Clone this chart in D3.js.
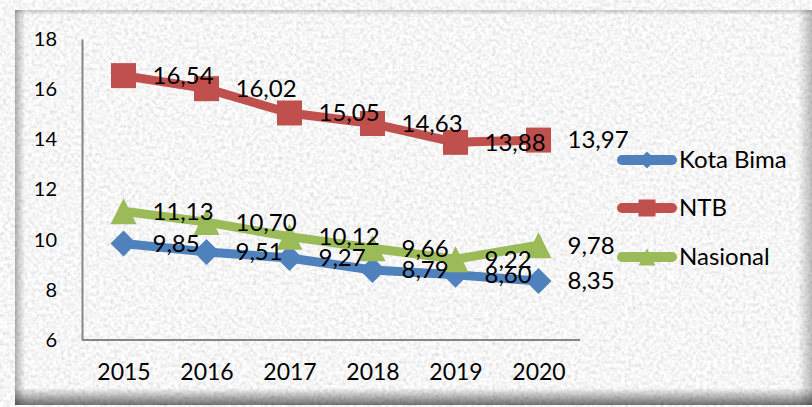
<!DOCTYPE html>
<html><head><meta charset="utf-8">
<script src="https://cdn.jsdelivr.net/npm/d3@7"></script>
<style>html,body{margin:0;padding:0;background:#fff;}svg{display:block;}</style>
</head><body>
<svg id="chart" width="812" height="407"></svg>
<script>
const years = ["2015","2016","2017","2018","2019","2020"];
const kotaBima = [9.85, 9.51, 9.27, 8.79, 8.60, 8.35];
const ntb = [16.54, 16.02, 15.05, 14.63, 13.88, 13.97];
const nasional = [11.13, 10.70, 10.12, 9.66, 9.22, 9.78];
const yTicks = [6, 8, 10, 12, 14, 16, 18];
const seriesNames = ["Kota Bima", "NTB", "Nasional"];
const seriesColors = ["#4F81BD", "#C0504D", "#9BBB59"];
const seriesMarkers = ["diamond", "square", "triangle"];
const seriesValues = [kotaBima, ntb, nasional];

const W = 812, H = 407;
const svg = d3.select("#chart");
const defs = svg.append("defs");
const FONT = "Lato, 'Open Sans', sans-serif";

// texture filter
const f = defs.append("filter").attr("id","grain")
  .attr("filterUnits","userSpaceOnUse").attr("x",0).attr("y",0).attr("width",W).attr("height",H);
f.append("feTurbulence").attr("type","fractalNoise").attr("baseFrequency","0.28").attr("numOctaves",3).attr("seed",7).attr("result","n");
f.append("feColorMatrix").attr("in","n").attr("type","matrix")
  .attr("values","0.45 0.15 0 0 0.62  0.45 0.15 0 0 0.62  0.45 0.15 0 0 0.62  0 0 0 0 1");

// gradients for inner shadow
function grad(id, x1,y1,x2,y2, op){
  const g = defs.append("linearGradient").attr("id",id).attr("x1",x1).attr("y1",y1).attr("x2",x2).attr("y2",y2);
  g.append("stop").attr("offset","0%").attr("stop-color","#000").attr("stop-opacity",0);
  g.append("stop").attr("offset","100%").attr("stop-color","#000").attr("stop-opacity",op);
}
grad("shB",0,0,0,1,0.55);
grad("shR",0,0,1,0,0.25);
grad("shL",1,0,0,0,0.3);
grad("shT",0,1,0,0,0.2);

// border
svg.append("rect").attr("x",0).attr("y",0).attr("width",W).attr("height",H).attr("fill","#F5AFB0");
svg.append("rect").attr("x",13).attr("y",8).attr("width",W-13).attr("height",H-8).attr("fill","#4BACC6");
const ix = 15, iy = 10, iw = W-15, ih = 405-10;
svg.append("rect").attr("x",ix).attr("y",iy).attr("width",iw).attr("height",ih).attr("fill","#ebebeb");
svg.append("rect").attr("x",ix).attr("y",iy).attr("width",iw).attr("height",ih).attr("fill","#fff").attr("filter","url(#grain)");
svg.append("rect").attr("x",ix).attr("y",388).attr("width",iw).attr("height",17).attr("fill","url(#shB)");
svg.append("rect").attr("x",798).attr("y",iy).attr("width",14).attr("height",ih).attr("fill","url(#shR)");
svg.append("rect").attr("x",ix).attr("y",iy).attr("width",10).attr("height",ih).attr("fill","url(#shL)");
svg.append("rect").attr("x",ix).attr("y",iy).attr("width",iw).attr("height",5).attr("fill","url(#shT)");

// scales
const x = d3.scalePoint().domain(years).range([82,580]).padding(0.5);
const y = d3.scaleLinear().domain([6,18]).range([340,39]);

// axes
const yAxis = svg.append("g").attr("transform","translate(82,0)")
  .call(d3.axisLeft(y).tickValues(yTicks).tickSize(0).tickPadding(25).tickFormat(d3.format("d")));
yAxis.select(".domain").attr("stroke","#868686").attr("stroke-width",2);
yAxis.selectAll("text").attr("font-family",FONT).attr("font-size",20).attr("fill","#000");

const xAxis = svg.append("g").attr("transform","translate(0,340)")
  .call(d3.axisBottom(x).tickSize(0).tickPadding(24));
xAxis.select(".domain").attr("stroke","#868686").attr("stroke-width",2).attr("d","M82,0H580");
xAxis.selectAll("text").attr("font-family",FONT).attr("font-size",23).attr("fill","#000");

function markerPath(type, s){
  if(type==="square") return `M${-s/2},${-s/2}h${s}v${s}h${-s}Z`;
  if(type==="diamond") return `M0,${-s/2}L${s/2},0L0,${s/2}L${-s/2},0Z`;
  return `M0,${-s/2}L${s/2},${s/2}L${-s/2},${s/2}Z`;
}
const line = d3.line().x((d,i)=>x(years[i])).y(d=>y(d));

seriesValues.forEach((vals, k)=>{
  const g = svg.append("g");
  g.append("path").datum(vals).attr("d",line).attr("fill","none")
    .attr("stroke",seriesColors[k]).attr("stroke-width",9).attr("stroke-linejoin","round").attr("stroke-linecap","round");
  const size = seriesMarkers[k]==="square" ? 25 : 26;
  g.selectAll("path.m").data(vals).join("path").attr("class","m")
    .attr("transform",(d,i)=>`translate(${x(years[i])},${y(d)})`)
    .attr("d",markerPath(seriesMarkers[k], size)).attr("fill",seriesColors[k]);
});

const fmt = v => v.toFixed(2).replace(".", ",");
seriesValues.forEach((vals,k)=>{
  svg.append("g").selectAll("text").data(vals).join("text")
    .attr("x",(d,i)=>x(years[i])+29).attr("y",d=>y(d)).attr("dy","0.35em")
    .attr("font-family",FONT).attr("font-size",24).attr("fill","#000")
    .text(fmt);
});

// legend
const legY = [160, 208, 257];
seriesNames.forEach((name,k)=>{
  const g = svg.append("g").attr("transform",`translate(0,${legY[k]})`);
  g.append("line").attr("x1",622).attr("x2",672).attr("y1",0).attr("y2",0)
    .attr("stroke",seriesColors[k]).attr("stroke-width",10).attr("stroke-linecap","round");
  g.append("path").attr("transform","translate(647,0)").attr("d",markerPath(seriesMarkers[k],17)).attr("fill",seriesColors[k]);
  g.append("text").attr("x",679).attr("y",0).attr("dy","0.35em")
    .attr("font-family",FONT).attr("font-size",24).attr("fill","#000").text(name);
});
</script>
</body></html>
